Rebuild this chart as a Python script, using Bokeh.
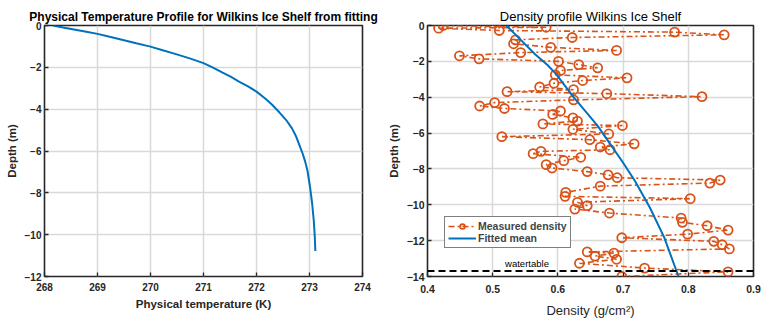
from bokeh.plotting import figure
from bokeh.layouts import row
from bokeh.models import FixedTicker, Span, Label, Legend, LegendItem, Range1d
from bokeh.embed import file_html
from bokeh.resources import INLINE

# ---------------- data ----------------
# Left panel: fitted physical temperature profile
temp_K = [268.16, 268.35, 268.53, 268.79, 269.0, 269.23, 269.48, 269.73,
          270.0, 270.23, 270.48, 270.74, 271.0, 271.18, 271.36, 271.52,
          271.67, 271.84, 272.0, 272.17, 272.3, 272.43, 272.56, 272.67,
          272.75, 272.81, 272.87, 272.92, 272.96, 273.01, 273.05, 273.08,
          273.10, 273.11]
temp_depth = [0.0, -0.10, -0.18, -0.30, -0.40, -0.54, -0.69, -0.85,
              -1.01, -1.18, -1.37, -1.57, -1.80, -2.01, -2.25, -2.46,
              -2.68, -2.91, -3.16, -3.50, -3.80, -4.15, -4.52, -4.92,
              -5.32, -5.72, -6.12, -6.52, -6.92, -7.72, -8.51, -9.31,
              -10.11, -10.78]

# Right panel: measured density samples (in depth order)
dens_meas = [0.424, 0.582, 0.417, 0.510, 0.779, 0.855, 0.622, 0.535,
             0.532, 0.589, 0.690, 0.543, 0.449, 0.479, 0.601, 0.632,
             0.661, 0.604, 0.596, 0.706, 0.638, 0.594, 0.572, 0.624,
             0.522, 0.675, 0.821, 0.624, 0.503, 0.480, 0.518, 0.604,
             0.592, 0.623, 0.630, 0.577, 0.699, 0.623, 0.678, 0.514,
             0.649, 0.717, 0.665, 0.680, 0.574, 0.562, 0.635, 0.609,
             0.582, 0.591, 0.645, 0.677, 0.691, 0.849, 0.833, 0.665,
             0.612, 0.611, 0.803, 0.630, 0.645, 0.626, 0.679, 0.789,
             0.791, 0.829, 0.861, 0.799, 0.698, 0.839, 0.852, 0.863,
             0.645, 0.686, 0.657, 0.690, 0.633, 0.733, 0.861, 0.698]
dens_depth = [0.0, -0.10, -0.15, -0.28, -0.37, -0.52, -0.67, -0.80,
              -1.02, -1.22, -1.39, -1.51, -1.69, -1.86, -2.00, -2.18,
              -2.36, -2.51, -2.75, -2.92, -3.07, -3.22, -3.43, -3.58,
              -3.69, -3.80, -3.97, -4.15, -4.30, -4.49, -4.63, -4.77,
              -4.96, -5.15, -5.33, -5.49, -5.58, -5.79, -6.05, -6.20,
              -6.37, -6.60, -6.78, -6.93, -7.02, -7.15, -7.35, -7.54,
              -7.76, -7.95, -8.15, -8.33, -8.49, -8.62, -8.79, -8.96,
              -9.31, -9.53, -9.66, -9.86, -10.05, -10.24, -10.46, -10.74,
              -10.98, -11.17, -11.41, -11.64, -11.84, -12.04, -12.23, -12.46,
              -12.63, -12.70, -12.86, -13.04, -13.26, -13.53, -13.74, -14.00]

# Right panel: fitted mean density
fit_dens = [0.521, 0.543, 0.565, 0.584, 0.597, 0.624, 0.645, 0.661,
            0.680, 0.699, 0.718, 0.741, 0.763, 0.785]
fit_depth = [0.0, -0.8, -1.6, -2.2, -2.7, -4.0, -4.9, -5.6,
             -6.6, -7.6, -8.66, -10.15, -11.82, -14.0]

water_table_depth = -13.7

temp_ticks = [268, 269, 270, 271, 272, 273, 274]
temp_depth_ticks = [0, -2, -4, -6, -8, -10, -12]
dens_ticks = [0.4, 0.5, 0.6, 0.7, 0.8, 0.9]
dens_depth_ticks = [0, -2, -4, -6, -8, -10, -12, -14]

# ---------------- styling ----------------
BLUE = "#0072BD"
ORANGE = "#D95319"
FONT = "Liberation Sans"
AXC = "#262626"


def style(p, xticks, yticks, tick_size, xlabel_style, xlabel_size,
          x_tick_standoff, x_label_standoff):
    p.outline_line_color = AXC
    p.outline_line_width = 1.6
    p.background_fill_color = "white"
    p.border_fill_color = "white"
    p.xgrid.ticker = FixedTicker(ticks=xticks)
    p.ygrid.ticker = FixedTicker(ticks=yticks)
    for g in (p.xgrid[0], p.ygrid[0]):
        g.grid_line_color = "#d9d9d9"
        g.grid_line_width = 1.5
    for ax, ticks in ((p.xaxis[0], xticks), (p.yaxis[0], yticks)):
        ax.ticker = FixedTicker(ticks=ticks)
        ax.axis_line_color = None
        ax.major_tick_in = 4
        ax.major_tick_out = 0
        ax.major_tick_line_color = AXC
        ax.major_tick_line_width = 1.3
        ax.minor_tick_line_color = None
        ax.major_label_text_font = FONT
        ax.major_label_text_font_style = "bold"
        ax.major_label_text_font_size = tick_size
        ax.major_label_text_color = AXC
        ax.axis_label_text_font = FONT
        ax.axis_label_text_color = AXC
    p.yaxis[0].major_label_standoff = 3
    p.yaxis[0].axis_label_standoff = 4
    p.yaxis[0].axis_label_text_font_style = "bold"
    p.yaxis[0].axis_label_text_font_size = "11.5px"
    p.xaxis[0].major_label_standoff = x_tick_standoff
    p.xaxis[0].axis_label_standoff = x_label_standoff
    p.xaxis[0].axis_label_text_font_style = xlabel_style
    p.xaxis[0].axis_label_text_font_size = xlabel_size
    p.title.align = "center"
    p.title.text_font = FONT
    p.title.text_color = "black"
    p.title.standoff = 4


# ---------------- left figure ----------------
p1 = figure(width=384, height=322, output_backend="svg", toolbar_location=None,
            x_range=Range1d(268, 274), y_range=Range1d(-12, 0),
            x_axis_label="Physical temperature (K)", y_axis_label="Depth (m)",
            title="Physical Temperature Profile for Wilkins Ice Shelf from fitting",
            min_border_left=44, min_border_right=22, min_border_top=25,
            min_border_bottom=46)
style(p1, temp_ticks, temp_depth_ticks, "10px", "bold", "11.5px", 6, 4)
p1.title.text_font_size = "12px"
p1.title.text_font_style = "bold"
p1.line(temp_K, temp_depth, line_color=BLUE, line_width=2)

# ---------------- right figure ----------------
p2 = figure(width=384, height=322, output_backend="svg", toolbar_location=None,
            x_range=Range1d(0.4, 0.9), y_range=Range1d(-14, 0),
            x_axis_label="Density (g/cm\u00b2)", y_axis_label="Depth (m)",
            title="Density profile Wilkins Ice Shelf",
            min_border_left=42, min_border_right=15, min_border_top=25,
            min_border_bottom=46)
style(p2, dens_ticks, dens_depth_ticks, "10.5px", "normal", "13px", 8, 7)
p2.title.text_font_size = "13px"
p2.title.text_font_style = "normal"

wt = Span(location=water_table_depth, dimension="width", line_color="black",
          line_width=2, line_dash="7 4")
p2.add_layout(wt)
p2.add_layout(Label(x=0.519, y=-13.3, text="watertable", text_font=FONT,
                    text_font_size="9.5px", text_color="black",
                    text_baseline="alphabetic"))

r_line = p2.line(dens_meas, dens_depth, line_color=ORANGE, line_width=1.6,
                 line_dash="6 3 2 3")
r_pts = p2.scatter(dens_meas, dens_depth, marker="circle", size=9,
                   line_color=ORANGE, line_width=1.8, fill_color=None)
r_fit = p2.line(fit_dens, fit_depth, line_color=BLUE, line_width=2)

legend = Legend(items=[LegendItem(label="Measured density", renderers=[r_line, r_pts]),
                       LegendItem(label="Fitted mean", renderers=[r_fit])],
                location=(17, 28))
legend.border_line_color = "black"
legend.border_line_width = 1.5
legend.background_fill_alpha = 1
legend.label_text_font = FONT
legend.label_text_font_size = "10.5px"
legend.label_text_font_style = "bold"
legend.glyph_width = 28
legend.glyph_height = 12
legend.label_height = 12
legend.label_standoff = 2
legend.padding = 3
legend.spacing = 0
legend.margin = 0
p2.add_layout(legend)

layout = row(p1, p2)
open("out.html", "w").write(file_html(layout, INLINE))
